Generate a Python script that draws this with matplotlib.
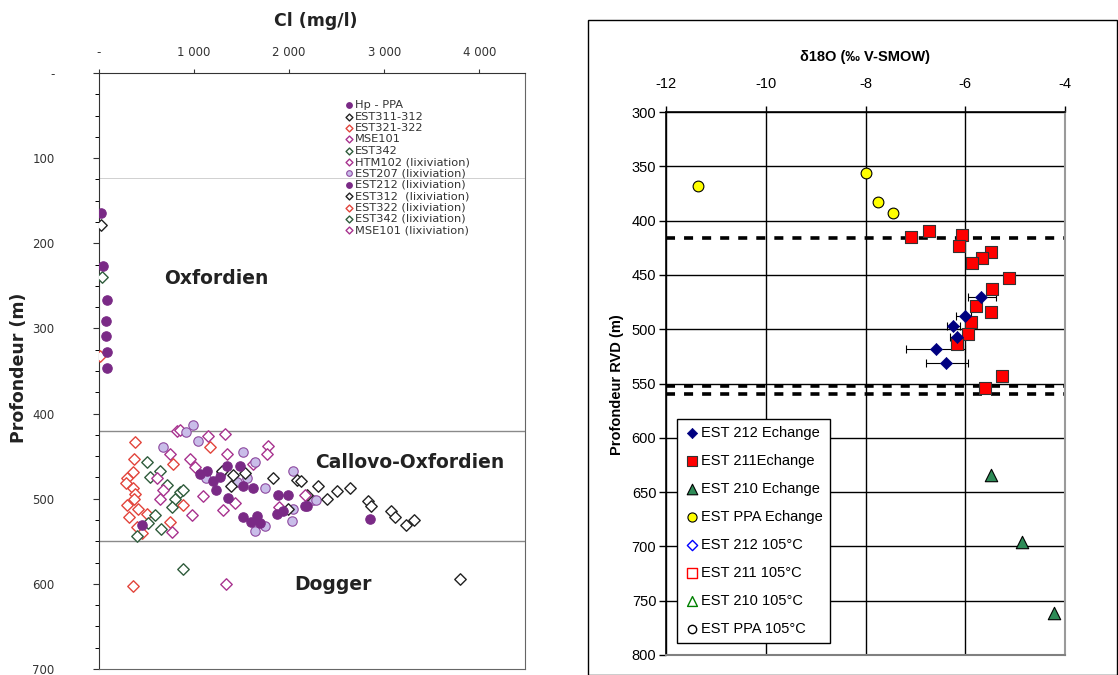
import matplotlib
matplotlib.use("Agg")
import matplotlib.pyplot as plt
from matplotlib.ticker import FuncFormatter, MultipleLocator
from matplotlib.patches import Rectangle

plt.rcParams['font.family'] = ['Liberation Sans', 'DejaVu Sans']
plt.rcParams['axes.unicode_minus'] = False

# ---------------- left panel data : Cl (mg/l) vs depth (m) ----------------
hp_ppa_cl = [20, 40, 80, 70, 70, 80, 80]
hp_ppa_depth = [164, 227, 267, 291, 309, 328, 347]

est311_cl = [25]
est311_depth = [179]

est321_cl = [10, 355]
est321_depth = [332, 602]

mse101_cl = [1332]
mse101_depth = [600]

est342_cl = [30, 885]
est342_depth = [240, 582]

htm102_cl = [824, 854, 1149, 1327, 748, 961, 1012, 1780, 1770, 1622, 1348]
htm102_depth = [421, 419, 426, 424, 447, 453, 463, 438, 447, 459, 447]

est207_cl = [991, 915, 1042, 676, 1515, 1642, 1561, 1454, 1749, 2044, 2044, 2252,
             1642, 1749, 2034, 2278, 1129, 1281]
est207_depth = [414, 422, 432, 439, 445, 457, 476, 480, 488, 468, 512, 502,
                538, 532, 526, 502, 476, 470]

est212_cl = [1063, 1139, 1200, 1276, 1348, 1485, 1515, 1622, 1886, 1983, 1358, 1515,
             1663, 1698, 1876, 1937, 2191, 452, 2847, 2171, 1230, 1597]
est212_depth = [471, 467, 479, 474, 462, 461, 485, 487, 496, 496, 499, 522,
                520, 529, 518, 514, 509, 531, 524, 509, 490, 527]

est312_cl = [1297, 1414, 1835, 2085, 2298, 2400, 1983, 2191, 2507, 2644, 2832, 2858,
             3066, 3117, 3224, 3310, 2120, 1536, 1383, 3793]
est312_depth = [467, 472, 476, 478, 485, 500, 512, 496, 491, 488, 503, 508,
                515, 521, 531, 525, 479, 470, 485, 594]

est322_cl = [381, 366, 356, 295, 285, 356, 381, 366, 295, 412, 503, 315, 402, 452,
             778, 1170, 747, 885]
est322_depth = [433, 453, 469, 476, 482, 488, 494, 500, 507, 512, 518, 521, 533, 540,
                459, 439, 527, 507]

est342l_cl = [503, 641, 539, 717, 854, 798, 768, 590, 513, 651, 402, 885]
est342l_depth = [457, 467, 475, 484, 492, 500, 510, 519, 529, 536, 544, 490]

mse101l_cl = [610, 676, 641, 1093, 1307, 981, 768, 2171, 1434, 1891]
mse101l_depth = [476, 490, 500, 497, 513, 519, 539, 496, 505, 510]

zones = ["Oxfordien", "Callovo-Oxfordien", "Dogger"]
zone_cl = [1230, 3270, 2460]
zone_depth = [241, 458, 601]
zone_limits = [420, 550]

# ---------------- right panel data : d18O vs depth RVD ----------------
ppa_d18o = [-11.36, -8.0, -7.74, -7.44]
ppa_rvd = [368, 356, 383, 393]

e211_d18o = [-7.08, -6.72, -6.06, -6.12, -5.48, -5.66, -5.86, -5.12, -5.46, -5.78,
             -5.48, -5.88, -5.94, -6.16, -5.26, -5.60]
e211_rvd = [415, 410, 413, 423, 429, 434, 439, 453, 463, 479,
            484, 493, 504, 514, 543, 554]

e212_d18o = [-5.68, -6.00, -6.24, -6.16, -6.58, -6.38]
e212_rvd = [470, 488, 497, 507, 518, 531]
e212_err_lo = [0.26, 0.18, 0.12, 0.14, 0.60, 0.40]
e212_err_hi = [0.30, 0.12, 0.14, 0.12, 0.58, 0.44]

e210_d18o = [-5.48, -4.86, -4.22]
e210_rvd = [634, 696, 761]

dashed_depths = [416, 552, 560]

# ---------------------------------------------------------------------------
W, H = 1118, 675
fig = plt.figure(figsize=(W / 100, H / 100), dpi=100)


def box(x0, y0, x1, y1):
    return [x0 / W, 1 - y1 / H, (x1 - x0) / W, (y1 - y0) / H]


# ======================= left panel (scanned figure, wider font) =======================
LF = ['DejaVu Sans']
ax1 = fig.add_axes(box(99, 73, 525, 669))
ax1.set_xlim(0, 4480)
ax1.set_ylim(700, 0)

purple = '#7a2a86'
lav = '#c9bde9'
lav_edge = '#8e4aa0'
red = '#e2453c'
green = '#2f5c3c'
mag = '#a8338f'
blk = '#222222'

ax1.axhline(123, color='#d0d0d0', lw=0.7, zorder=1)
for d in zone_limits:
    ax1.axhline(d, color='#8a8a8a', lw=1.0, zorder=1)

dsz = 34
csz = 46
ax1.scatter(hp_ppa_cl, hp_ppa_depth, s=csz, c=purple, edgecolors=purple, lw=0.8,
            label='Hp - PPA', zorder=4)
ax1.scatter(est311_cl, est311_depth, s=dsz, marker='D', facecolors='white',
            edgecolors=blk, lw=1, label='EST311-312', zorder=3)
ax1.scatter(est321_cl, est321_depth, s=dsz, marker='D', facecolors='white',
            edgecolors=red, lw=1, label='EST321-322', zorder=3)
ax1.scatter(mse101_cl, mse101_depth, s=dsz, marker='D', facecolors='white',
            edgecolors=mag, lw=1, label='MSE101', zorder=3)
ax1.scatter(est342_cl, est342_depth, s=dsz, marker='D', facecolors='white',
            edgecolors=green, lw=1, label='EST342', zorder=3)
ax1.scatter(htm102_cl, htm102_depth, s=dsz, marker='D', facecolors='white',
            edgecolors=mag, lw=1, label='HTM102 (lixiviation)', zorder=3)
ax1.scatter(est207_cl, est207_depth, s=csz, c=lav, edgecolors=lav_edge, lw=0.8,
            label='EST207 (lixiviation)', zorder=3)
ax1.scatter(est212_cl, est212_depth, s=csz, c=purple, edgecolors=purple, lw=0.8,
            label='EST212 (lixiviation)', zorder=4)
ax1.scatter(est312_cl, est312_depth, s=dsz, marker='D', facecolors='white',
            edgecolors=blk, lw=1, label='EST312  (lixiviation)', zorder=3)
ax1.scatter(est322_cl, est322_depth, s=dsz, marker='D', facecolors='white',
            edgecolors=red, lw=1, label='EST322 (lixiviation)', zorder=3)
ax1.scatter(est342l_cl, est342l_depth, s=dsz, marker='D', facecolors='white',
            edgecolors=green, lw=1, label='EST342 (lixiviation)', zorder=3)
ax1.scatter(mse101l_cl, mse101l_depth, s=dsz, marker='D', facecolors='white',
            edgecolors=mag, lw=1, label='MSE101 (lixiviation)', zorder=3)

for name, xc, yc in zip(zones, zone_cl, zone_depth):
    ax1.text(xc, yc, name, fontsize=13.5, fontweight='bold', ha='center', va='center',
             color='#222222', family=LF)

ax1.xaxis.tick_top()
ax1.xaxis.set_major_locator(MultipleLocator(1000))
ax1.xaxis.set_major_formatter(FuncFormatter(
    lambda v, p: '-' if v == 0 else '{:,.0f}'.format(v).replace(',', ' ')))
ax1.yaxis.set_major_locator(MultipleLocator(100))
ax1.yaxis.set_minor_locator(MultipleLocator(25))
ax1.yaxis.set_major_formatter(FuncFormatter(lambda v, p: '-' if v == 0 else '{:.0f}'.format(v)))
ax1.tick_params(axis='x', direction='out', length=3, width=0.8, pad=7,
                labelsize=8.5, colors='#333333')
ax1.tick_params(axis='y', which='major', direction='out', length=4, width=0.8, pad=28,
                labelsize=8.5, colors='#333333')
ax1.tick_params(axis='y', which='minor', direction='out', length=3, width=0.7)
for lab in ax1.get_xticklabels() + ax1.get_yticklabels():
    lab.set_family(LF)
for side in ['left', 'top']:
    ax1.spines[side].set_color('#333333')
for side in ['right', 'bottom']:
    ax1.spines[side].set_color('#666666')

leg1 = ax1.legend(loc='upper left', bbox_to_anchor=(0.565, 0.962), frameon=False,
                  prop={'family': LF, 'size': 8.2}, handletextpad=0.05, handlelength=0.9,
                  markerscale=0.6, labelspacing=0.12, borderaxespad=0)
for t in leg1.get_texts():
    t.set_color('#333333')

fig.text(316 / W, 1 - 21 / H, 'Cl (mg/l)', fontsize=12.5, fontweight='bold',
         ha='center', va='center', color='#222222', family=LF)
fig.text(19 / W, 1 - 368 / H, 'Profondeur (m)', fontsize=12.5, fontweight='bold',
         rotation=90, ha='center', va='center', color='#222222', family=LF)

# ======================= right panel =======================
fig.add_artist(Rectangle((588 / W, 0), (1117 - 588) / W, (675 - 20) / H,
                         transform=fig.transFigure, fill=False, ec='black', lw=1))

ax2 = fig.add_axes(box(666, 112, 1065, 655))
ax2.set_xlim(-12, -4)
ax2.set_ylim(800, 300)
ax2.xaxis.tick_top()
ax2.xaxis.set_major_locator(MultipleLocator(2))
ax2.yaxis.set_major_locator(MultipleLocator(50))
ax2.grid(True, color='black', lw=1.0, zorder=0)
ax2.set_axisbelow(True)
ax2.tick_params(axis='x', direction='out', length=4, width=1, pad=11, labelsize=10.5)
ax2.tick_params(axis='y', direction='out', length=5, width=1, pad=2, labelsize=10.5)
ax2.spines['left'].set_linewidth(1.2)
ax2.spines['top'].set_linewidth(1.2)
ax2.spines['right'].set_color('#9a9a9a')
ax2.spines['bottom'].set_color('#808080')
ax2.spines['right'].set_linewidth(1.5)
ax2.spines['bottom'].set_linewidth(1.5)

for d in dashed_depths:
    ax2.axhline(d, color='black', lw=2.6, ls=(0, (2.5, 2.5)), zorder=2)

ax2.errorbar(e212_d18o, e212_rvd, xerr=[e212_err_lo, e212_err_hi], fmt='none',
             ecolor='black', elinewidth=0.8, capsize=3, capthick=0.8, zorder=3)
ax2.scatter(e212_d18o, e212_rvd, s=38, marker='D', c='#000080', edgecolors='#000080',
            lw=0.5, label='EST 212 Echange', zorder=5)
ax2.scatter(e211_d18o, e211_rvd, s=72, marker='s', c='#ff0000', edgecolors='#333333',
            lw=0.8, label='EST 211Echange', zorder=4)
ax2.scatter(e210_d18o, e210_rvd, s=80, marker='^', c='#2e8b57', edgecolors='black',
            lw=0.8, label='EST 210 Echange', zorder=4)
ax2.scatter(ppa_d18o, ppa_rvd, s=60, marker='o', c='#ffff00', edgecolors='black',
            lw=0.8, label='EST PPA Echange', zorder=4)
ax2.scatter([], [], s=38, marker='D', facecolors='white', edgecolors='#0000ff', lw=1,
            label='EST 212 105°C')
ax2.scatter([], [], s=60, marker='s', facecolors='white', edgecolors='#ff0000', lw=1,
            label='EST 211 105°C')
ax2.scatter([], [], s=70, marker='^', facecolors='white', edgecolors='#008000', lw=1,
            label='EST 210 105°C')
ax2.scatter([], [], s=50, marker='o', facecolors='white', edgecolors='black', lw=1,
            label='EST PPA 105°C')

leg2 = ax2.legend(loc='upper left', bbox_to_anchor=(0.028, 0.4346), fontsize=10.5,
                  frameon=True, fancybox=False, edgecolor='black', framealpha=1,
                  handletextpad=0.1, handlelength=1.0, markerscale=0.85,
                  labelspacing=0.955, borderpad=0.5, borderaxespad=0)
leg2.get_frame().set_linewidth(1.0)

ax2.set_title('δ18O (‰ V-SMOW)', fontsize=10.5, fontweight='bold', pad=37)
fig.text(617 / W, 1 - 385 / H, 'Profondeur RVD (m)', fontsize=10.5, fontweight='bold',
         rotation=90, ha='center', va='center')

fig.savefig('out.png', dpi=100)
